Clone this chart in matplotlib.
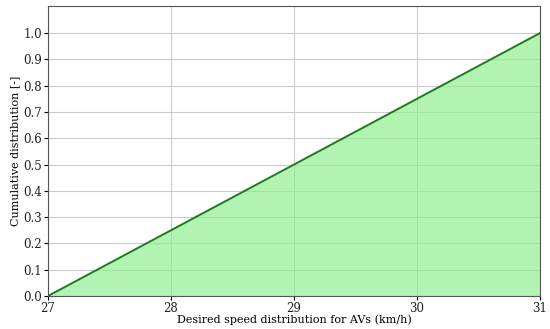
import matplotlib
matplotlib.use("Agg")
import matplotlib.pyplot as plt

# CDF of desired speed for AVs (uniform between 27 and 31 km/h)
speed = [27, 31]
cdf = [0.0, 1.0]
x_ticks = [27, 28, 29, 30, 31]
y_ticks = [0.0, 0.1, 0.2, 0.3, 0.4, 0.5, 0.6, 0.7, 0.8, 0.9, 1.0]

plt.rcParams["font.family"] = ["DejaVu Serif"]

fig = plt.figure(figsize=(5.5, 3.29), dpi=100)
ax = fig.add_axes([48 / 550, 1 - 296 / 329, 492 / 550, 290 / 329])

ax.fill_between(speed, cdf, 0, color="lightgreen", alpha=0.7, linewidth=0)
ax.plot(speed, cdf, color="#1c7a1c", linewidth=1.4)

ax.set_xlim(27, 31)
ax.set_ylim(0, 1.103)
ax.set_xticks(x_ticks)
ax.set_yticks(y_ticks)
ax.set_yticklabels([f"{v:.1f}" for v in y_ticks])
ax.tick_params(labelsize=8.5, length=3, pad=1.5, labelcolor="#222222")
ax.grid(True, color="#cccccc", linewidth=0.8)
ax.set_axisbelow(True)
for s in ax.spines.values():
    s.set_color("#555555")

ax.set_xlabel("Desired speed distribution for AVs (km/h)", fontsize=8, labelpad=-0.5)
ax.set_ylabel("Cumulative distribution [-]", fontsize=8, labelpad=2)

fig.savefig("out.png", dpi=100)
